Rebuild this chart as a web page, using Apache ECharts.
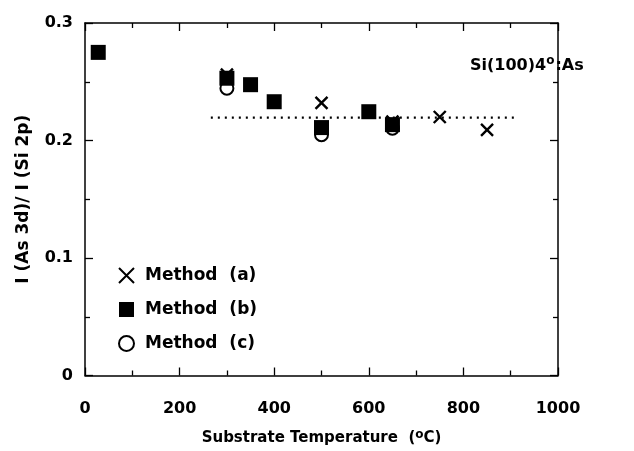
<!DOCTYPE html>
<html><head><meta charset="utf-8">
<script src="https://cdn.jsdelivr.net/npm/echarts@6/dist/echarts.min.js"></script>
<style>html,body{margin:0;padding:0;background:#fff}#c{width:634px;height:451px}</style>
</head><body><div id="c"></div>
<script>
var methodA = [[300,0.256],[500,0.232],[650,0.216],[750,0.220],[850,0.209]];
var methodB = [[28,0.275],[300,0.253],[350,0.2475],[400,0.233],[500,0.211],[600,0.2245],[650,0.2135]];
var methodC = [[300,0.2445],[500,0.205],[650,0.2105]];
var avgLine = [[266,0.2195],[911,0.2195]];
var seriesNames = ['Method  (a)','Method  (b)','Method  (c)'];
var xTicks = [0,200,400,600,800,1000];
var yTicks = [0,0.1,0.2,0.3];

var FONT = 'DejaVu Sans';
var chart = echarts.init(document.getElementById('c'), null, {renderer:'canvas'});
var xPath = 'path://M0,0L10,10M10,0L0,10';
function axisCommon(extra){
  return Object.assign({
    axisLine:{show:true,onZero:false,lineStyle:{color:'#000',width:1.5}},
    axisTick:{show:true,inside:true,length:8,lineStyle:{color:'#000',width:1.3}},
    minorTick:{show:true,splitNumber:2,length:5,lineStyle:{color:'#000',width:1.3}},
    splitLine:{show:false}
  }, extra);
}
chart.setOption({
  animation:false,
  backgroundColor:'#fff',
  grid:{left:85,right:76,top:23,bottom:74},
  xAxis:[axisCommon({
    type:'value',min:0,max:1000,interval:200,position:'bottom',
    axisLabel:{color:'#000',fontFamily:FONT,fontWeight:'bold',fontSize:16,margin:25,
      formatter:function(v){return String(v);}},
    name:'Substrate Temperature  ({sup|o}C)',
    nameLocation:'middle',nameGap:53,
    nameTextStyle:{color:'#000',fontFamily:FONT,fontWeight:'bold',fontSize:15,
      rich:{sup:{fontSize:12,fontFamily:FONT,fontWeight:'bold',verticalAlign:'top',padding:[0,0,8,0],color:'#000'}}}
  }),
  axisCommon({
    type:'value',min:0,max:1000,interval:200,position:'top',
    axisLabel:{show:false}
  })],
  yAxis:[axisCommon({
    type:'value',min:0,max:0.3,interval:0.1,position:'left',
    axisLabel:{color:'#000',fontFamily:FONT,fontWeight:'bold',fontSize:16,margin:12,
      formatter:function(v){return v===0?'0':v.toFixed(1);}},
    name:'I (As 3d)/ I (Si 2p)',nameLocation:'middle',nameGap:53,nameRotate:90,
    nameTextStyle:{color:'#000',fontFamily:FONT,fontWeight:'bold',fontSize:17}
  }),
  axisCommon({
    type:'value',min:0,max:0.3,interval:0.1,position:'right',
    axisLabel:{show:false}
  })],
  legend:{
    orient:'vertical',left:113,top:262,itemGap:17,itemWidth:15,itemHeight:15,
    data:seriesNames,
    textStyle:{color:'#000',fontFamily:FONT,fontWeight:'bold',fontSize:17,padding:[0,0,0,6]}
  },
  graphic:[{
    type:'text',left:470,top:55,
    style:{text:'Si(100)4{sup|o}:As',fill:'#000',font:'bold 16px "DejaVu Sans"',
      rich:{sup:{fontSize:12,fontFamily:FONT,fontWeight:'bold',verticalAlign:'top',padding:[0,1,9,0]}}}
  }],
  series:[
    {type:'line',data:avgLine,symbol:'none',silent:true,
     lineStyle:{color:'#000',width:2.2,type:[2,5]},z:1},
    {name:seriesNames[2],type:'scatter',data:methodC,symbol:'emptyCircle',symbolSize:13,
     itemStyle:{color:'#000',borderColor:'#000',borderWidth:2.3,opacity:1},z:2},
    {name:seriesNames[1],type:'scatter',data:methodB,symbol:'rect',symbolSize:15,
     itemStyle:{color:'#000',opacity:1},z:3},
    {name:seriesNames[0],type:'scatter',data:methodA,symbol:xPath,symbolSize:12,
     itemStyle:{color:'rgba(0,0,0,0)',borderColor:'#000',borderWidth:2.4,opacity:1},z:4}
  ]
});
</script></body></html>
